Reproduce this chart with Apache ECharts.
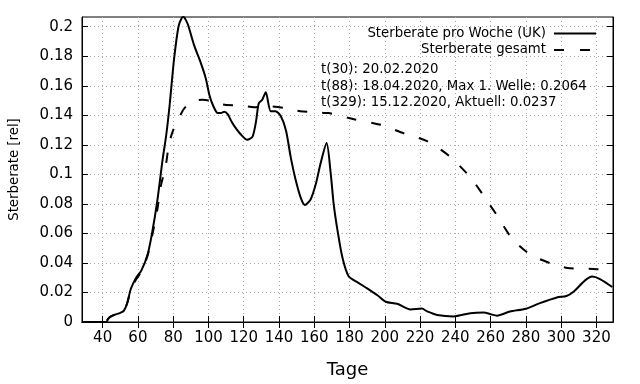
<!DOCTYPE html>
<html>
<head>
<meta charset="utf-8">
<script src="https://cdn.jsdelivr.net/npm/echarts@6/dist/echarts.min.js"></script>
<style>html,body{margin:0;padding:0;background:#fff;}#c{width:640px;height:384px;}</style>
</head>
<body>
<div id="c"></div>
<script>
const xTicks = [40, 60, 80, 100, 120, 140, 160, 180, 200, 220, 240, 260, 280, 300, 320];
const yTicks = [0, 0.02, 0.04, 0.06, 0.08, 0.1, 0.12, 0.14, 0.16, 0.18, 0.2];

const weeklyDays = [29, 42, 43, 44.7, 47, 50, 52, 54, 56, 59, 62, 65.5, 68, 71, 74, 76, 78, 80.5, 83, 85, 86, 87, 88.5, 92, 95.5, 98.5, 100.5, 102.5, 105, 107, 109, 111, 113, 114.5, 118, 122, 125, 127, 128.5, 130.5, 132.5, 135.3, 138, 141, 144, 146.6, 149.4, 152.3, 154.7, 158, 161, 163.6, 167, 169.3, 171, 173, 176, 179.5, 184.4, 190, 195.8, 200.5, 207, 214.6, 221, 224, 229.7, 239, 248.5, 256, 260, 263.6, 271, 280, 288, 297.6, 303, 307, 313.6, 317.6, 322, 329];
const weeklyRate = [0, 0, 0.002, 0.0038, 0.005, 0.0062, 0.0075, 0.013, 0.0225, 0.030, 0.035, 0.0457, 0.06, 0.082, 0.110, 0.126, 0.147, 0.178, 0.200, 0.2062, 0.2066, 0.205, 0.201, 0.187, 0.176, 0.165, 0.154, 0.147, 0.1417, 0.1415, 0.1424, 0.1406, 0.136, 0.133, 0.1275, 0.1234, 0.1256, 0.136, 0.148, 0.1505, 0.1556, 0.1428, 0.1428, 0.1395, 0.1296, 0.112, 0.0965, 0.0843, 0.0793, 0.0832, 0.094, 0.1075, 0.1212, 0.101, 0.08, 0.0634, 0.0435, 0.031, 0.027, 0.0228, 0.0181, 0.0137, 0.0124, 0.0085, 0.0091, 0.0072, 0.0048, 0.0038, 0.006, 0.0065, 0.0053, 0.0043, 0.0071, 0.009, 0.0128, 0.0166, 0.0176, 0.0205, 0.0282, 0.0308, 0.0291, 0.0237];

const totalDays = [29, 42, 43, 44.7, 47, 50, 52, 54, 56, 59, 62, 65.5, 68, 71, 73, 75.8, 77.7, 80, 82.5, 85.3, 88, 91, 96.6, 101, 110, 118, 126, 133, 143, 152, 164, 168, 182.5, 197.6, 210.8, 224, 237, 248.5, 255.5, 263.6, 272, 282.5, 295.7, 305, 312.7, 320, 329];
const totalRate = [0, 0, 0.002, 0.0038, 0.005, 0.006, 0.0075, 0.013, 0.022, 0.029, 0.034, 0.045, 0.058, 0.076, 0.092, 0.106, 0.121, 0.130, 0.136, 0.143, 0.147, 0.1495, 0.1505, 0.1499, 0.147, 0.1468, 0.1455, 0.1462, 0.145, 0.1428, 0.1417, 0.1415, 0.1373, 0.1336, 0.1278, 0.1225, 0.112, 0.098, 0.0865, 0.0722, 0.0568, 0.0457, 0.039, 0.0364, 0.0362, 0.0358, 0.0345];

const seriesNames = ['Sterberate pro Woche (UK)', 'Sterberate gesamt'];
const infoLines = ['t(30): 20.02.2020', 't(88): 18.04.2020, Max 1. Welle: 0.2064', 't(329): 15.12.2020, Aktuell: 0.0237'];

const FONT = 'DejaVu Sans';
const FS = 13.3;
const X_MIN = 28.3, X_MAX = 329.4, Y_MIN = 0, Y_MAX = 0.2066;

function pairs(xs, ys) { return xs.map((x, i) => [x, ys[i]]); }

const tickStyle = { show: true, inside: true, length: 6, lineStyle: { color: '#000', width: 1 } };
const split = { show: true, lineStyle: { color: '#a8a8a8', width: 1, type: [1, 3] } };

function legendFor(name, top, dash) {
  return {
    data: [name], right: 43, top: top, orient: 'vertical', align: 'right',
    itemWidth: 42, itemHeight: 14, itemGap: 0, padding: 0,
    itemStyle: { opacity: 0 },
    lineStyle: dash ? { type: dash, width: 2, color: '#000' } : { width: 2, color: '#000' },
    textStyle: { fontFamily: FONT, fontSize: FS, color: '#000', padding: [0, 3, 0, 0] }
  };
}

const chart = echarts.init(document.getElementById('c'), null, { renderer: 'canvas' });
chart.setOption({
  animation: false,
  backgroundColor: '#fff',
  textStyle: { fontFamily: FONT },
  grid: { left: 81, right: 27, top: 17, bottom: 55, show: true, borderColor: '#000', borderWidth: 1, backgroundColor: 'transparent' },
  legend: [
    legendFor(seriesNames[0], 27, null),
    legendFor(seriesNames[1], 43.5, [10, 16])
  ],
  xAxis: [
    { type: 'value', min: X_MIN, max: X_MAX, position: 'bottom',
      name: 'Tage', nameLocation: 'middle', nameGap: 39, nameTextStyle: { fontFamily: FONT, fontSize: 18, color: '#000' },
      axisLine: { show: true, lineStyle: { color: '#000' } },
      axisTick: Object.assign({ customValues: xTicks }, tickStyle),
      axisLabel: { customValues: xTicks, fontFamily: FONT, fontSize: 15, color: '#000', margin: 9 },
      splitLine: split },
    { type: 'value', min: X_MIN, max: X_MAX, position: 'top',
      axisLine: { show: true, lineStyle: { color: '#000' } },
      axisTick: Object.assign({ customValues: xTicks }, tickStyle),
      axisLabel: { show: false }, splitLine: { show: false } }
  ],
  yAxis: [
    { type: 'value', min: Y_MIN, max: Y_MAX, position: 'left',
      name: 'Sterberate [rel]', nameLocation: 'middle', nameGap: 61, nameRotate: 90,
      nameTextStyle: { fontFamily: FONT, fontSize: FS, color: '#000' },
      axisLine: { show: true, lineStyle: { color: '#000' } },
      axisTick: Object.assign({ customValues: yTicks }, tickStyle),
      axisLabel: { customValues: yTicks, fontFamily: FONT, fontSize: 15, color: '#000', margin: 9 },
      splitLine: split },
    { type: 'value', min: Y_MIN, max: Y_MAX, position: 'right',
      axisLine: { show: true, lineStyle: { color: '#000' } },
      axisTick: Object.assign({ customValues: yTicks }, tickStyle),
      axisLabel: { show: false }, splitLine: { show: false } }
  ],
  series: [
    { name: seriesNames[0], type: 'line', xAxisIndex: 0, yAxisIndex: 0, data: pairs(weeklyDays, weeklyRate),
      symbol: 'none', smooth: 0.25, clip: false, lineStyle: { color: '#000', width: 2 }, itemStyle: { color: '#000' }, z: 3 },
    { name: seriesNames[1], type: 'line', xAxisIndex: 0, yAxisIndex: 0, data: pairs(totalDays, totalRate),
      symbol: 'none', smooth: 0.25, clip: false, lineStyle: { color: '#000', width: 2, type: [10, 15] }, itemStyle: { color: '#000' }, z: 2 }
  ],
  graphic: infoLines.map((t, i) => ({
    type: 'text', left: 321, top: 63.5 + i * 16.5,
    style: { text: t, fontFamily: FONT, fontSize: FS, fill: '#000' }, z: 10
  }))
});
</script>
</body>
</html>
